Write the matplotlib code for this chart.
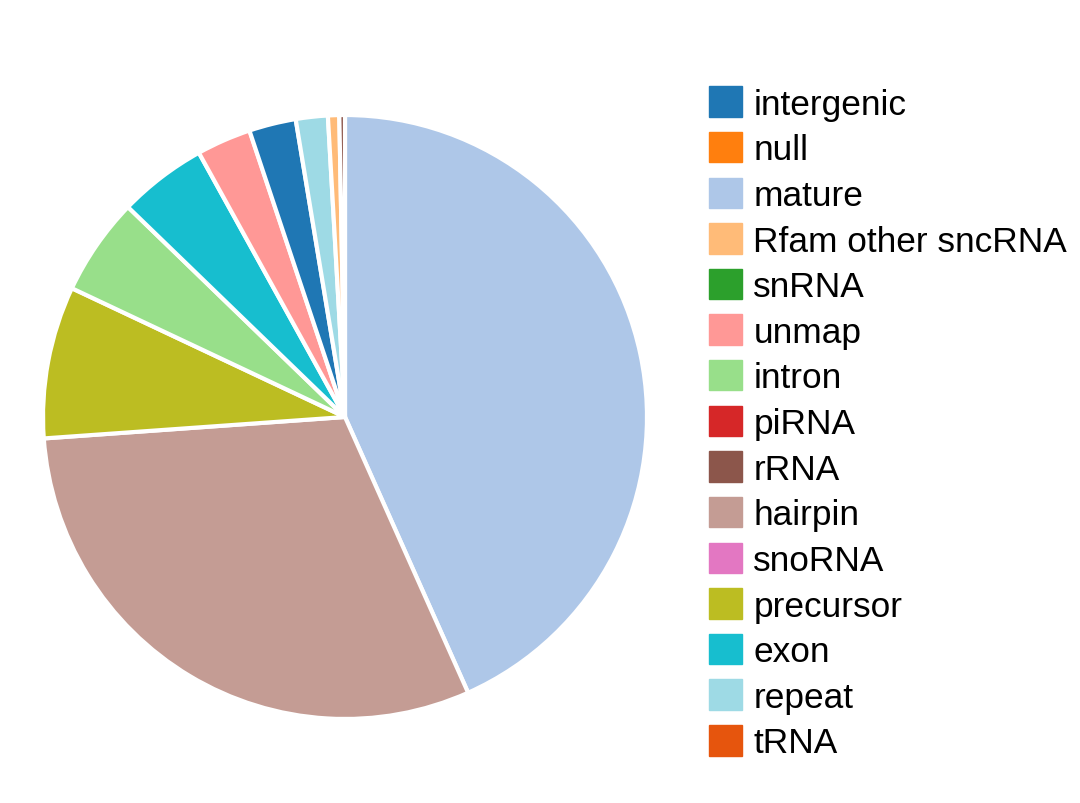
import matplotlib
matplotlib.use('Agg')
import matplotlib.pyplot as plt
from matplotlib.patches import Patch

plt.rcParams['font.family'] = 'Liberation Sans'

# legend order
labels = ['intergenic', 'null', 'mature', 'Rfam other sncRNA', 'snRNA', 'unmap', 'intron',
          'piRNA', 'rRNA', 'hairpin', 'snoRNA', 'precursor', 'exon', 'repeat', 'tRNA']
colors = ['#1f77b4', '#ff7f0e', '#aec7e8', '#ffbb78', '#2ca02c', '#ff9896', '#98df8a',
          '#d62728', '#8c564b', '#c49c94', '#e377c2', '#bcbd22', '#17becf', '#9edae5', '#e6550d']
# percentage of reads
values = [2.5, 0.0, 43.1, 0.6, 0.0, 2.9, 5.2, 0.0, 0.3, 30.4, 0.0, 8.1, 4.7, 1.7, 0.0]

fig = plt.figure(figsize=(10.8, 8.04), dpi=100)
ax = fig.add_axes([0.0398, 0.1045, 0.5593, 0.7512])

# pie is drawn largest first, clockwise from 12 o'clock
order = sorted([i for i in range(len(values)) if values[i] > 0], key=lambda i: -values[i])
ax.pie([values[i] for i in order], colors=[colors[i] for i in order],
       startangle=90, counterclock=False, radius=1,
       wedgeprops=dict(edgecolor='white', linewidth=3, joinstyle='round'))
ax.set_xlim(-1, 1)
ax.set_ylim(-1, 1)
ax.set_aspect('equal')

handles = [Patch(facecolor=c, edgecolor=c) for c in colors]
fig.legend(handles, labels, loc='upper left', bbox_to_anchor=(0.643, 0.909),
           frameon=False, fontsize=25.4, handlelength=0.95, handleheight=0.95,
           handletextpad=0.32, labelspacing=0.32, borderaxespad=0)

plt.savefig('out.png', dpi=100)
